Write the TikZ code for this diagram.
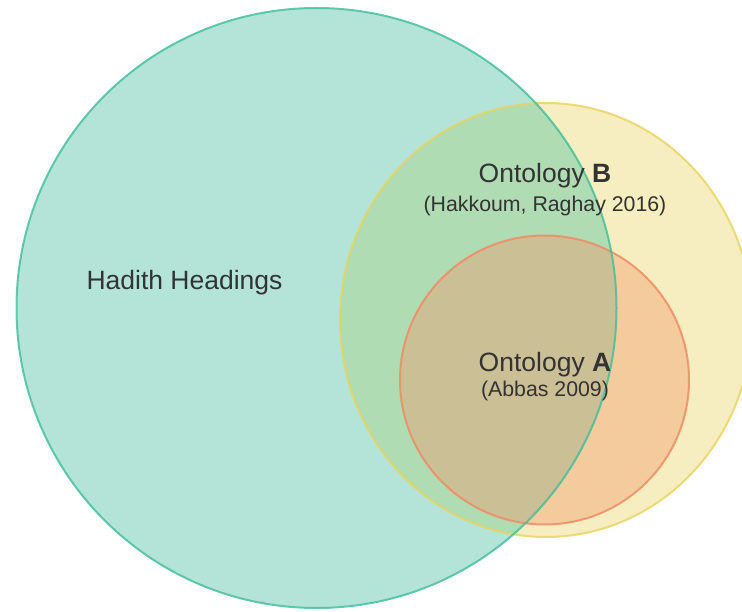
\documentclass[tikz,border=0pt]{standalone}
\usepackage{fontspec}
\setmainfont{Liberation Sans}
\definecolor{tealfill}{HTML}{B4E4D8}
\definecolor{tealline}{HTML}{3DBE9C}
\definecolor{yelfill}{HTML}{F6EDC0}
\definecolor{yelline}{HTML}{E9D35A}
\definecolor{tyfill}{HTML}{B0DCB4}
\definecolor{orfill}{HTML}{F4CB9C}
\definecolor{orline}{HTML}{F2875F}
\definecolor{allfill}{HTML}{CBBF95}
\definecolor{txt}{HTML}{333333}
\begin{document}
\begin{tikzpicture}[x=1pt,y=-1pt,
  bigtext/.style={text=txt,font=\fontsize{26.5}{30}\selectfont,anchor=base,inner sep=0pt},
  smalltext/.style={text=txt,font=\fontsize{21.3}{25}\selectfont,anchor=base,inner sep=0pt},
  ring/.style={line width=2pt,draw opacity=0.8}]
\useasboundingbox (0,0) rectangle (742,612);
\def\teal{(316.5,308) circle [radius=300]}
\def\yel{(546,320) ellipse [x radius=206, y radius=217]}
\def\ora{(544.5,380) circle [radius=144.5]}
% fills, with each overlap coloured on its own
\fill[tealfill] \teal;
\fill[yelfill] \yel;
\begin{scope}
  \clip \teal;
  \fill[tyfill] \yel;
\end{scope}
\fill[orfill] \ora;
\begin{scope}
  \clip \teal;
  \fill[allfill] \ora;
\end{scope}
% outlines
\draw[ring,yelline] \yel;
\draw[ring,orline] \ora;
\draw[ring,tealline] \teal;
% labels
\node[bigtext] (hadith) at (184.5,290) {Hadith Headings};
\node[bigtext] (ontb) at (545,183) {Ontology \textbf{B}};
\node[smalltext] (citeb) at (545,212) {(Hakkoum, Raghay 2016)};
\node[bigtext] (onta) at (545,372) {Ontology \textbf{A}};
\node[smalltext] (citea) at (545,396) {(Abbas 2009)};
\end{tikzpicture}
\end{document}
